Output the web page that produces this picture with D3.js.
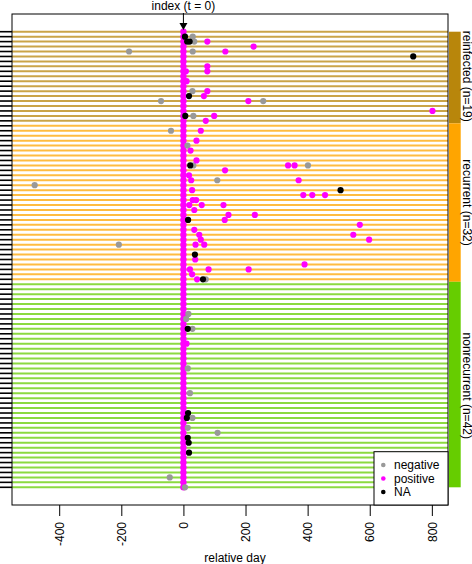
<!DOCTYPE html>
<html><head><meta charset="utf-8">
<script src="https://cdn.jsdelivr.net/npm/d3@7"></script>
<style>body{margin:0;background:#fff}svg{display:block;font-family:"Liberation Sans",Arial,sans-serif}</style>
</head><body><svg id="c" width="472" height="564"></svg>
<script>
// ---- data ----
const groups = ["reinfected", "recurrent", "nonrecurrent"];
const groupCounts = [19, 32, 42];
const groupColors = ["#B8860B", "#FFA500", "#66CD00"];
const xTicks = [-400, -200, 0, 200, 400, 600, 800];
const legendLabels = ["negative", "positive", "NA"];
const legendColors = ["#999999", "#FF00FF", "#000000"];

// rows counted from the top (1..93)
const negativeRows = [2, 3, 5, 5, 13, 15, 15, 18, 21, 24, 28, 28, 31, 32, 44, 51, 58, 59, 61, 69, 74, 79, 81, 82, 91, 93];
const negativeDays = [30, 35, -175, 30, 29, -72, 257, 32, -40, 13, 32, 401, 109, -479, -208, 72, 16, 9, 29, 14, 21, 29, 14, 110, -44, 5];

const positiveRows = [3, 4, 5, 8, 9, 9, 11, 13, 14, 15, 17, 18, 19, 21, 23, 25, 27, 28, 28, 29, 30, 31, 31, 33, 34, 34, 34, 35, 35, 36, 36, 36, 37, 38, 38, 39, 40, 41, 42, 42, 43, 43, 44, 44, 47, 48, 49, 49, 49, 50, 51, 64];
const positiveDays = [77, 226, 135, 77, 77, 8, 10, 77, 66, 209, 802, 99, 72, 56, 42, 23, 42, 337, 358, 134, 18, 25, 371, 28, 386, 415, 456, 30, 41, 19, 59, 129, 35, 145, 230, 133, 568, 35, 51, 547, 56, 598, 39, 67, 38, 390, 21, 81, 210, 28, 44, 10];

const naRows = [2, 3, 3, 6, 14, 18, 28, 33, 39, 46, 51, 61, 78, 79, 83, 84, 86];
const naDays = [5, 12, 20, 740, 18, 6, 22, 506, 15, 37, 63, 14, 15, 11, 14, 17, 18];

// ---- layout ----
const svg = d3.select("#c");
const L = 12, R = 448, T = 14, B = 505;
const nRows = d3.sum(groupCounts);
const x = d3.scaleLinear().domain([-552, 852]).range([L, R]);
const y = d3.scaleLinear().domain([1, nRows]).range([31.7, 487.3]);

// group index per row
const rowGroup = [];
groupCounts.forEach((n, g) => { for (let i = 0; i < n; i++) rowGroup.push(g); });
const rows = d3.range(1, nRows + 1);

// row lines
svg.append("g").selectAll("line").data(rows).join("line")
  .attr("x1", L).attr("x2", R)
  .attr("y1", d => y(d)).attr("y2", d => y(d))
  .attr("stroke", d => groupColors[rowGroup[d - 1]])
  .attr("stroke-opacity", 0.75)
  .attr("stroke-width", 2);

// left ticks (one per row)
svg.append("g").selectAll("line").data(rows).join("line")
  .attr("x1", 0).attr("x2", L)
  .attr("y1", d => y(d)).attr("y2", d => y(d))
  .attr("stroke", "#000").attr("stroke-width", 1.6);

// right group strip
let start = 1;
const strips = groupCounts.map((n, g) => {
  const s = { g, first: start, last: start + n - 1 };
  start += n; return s;
});
const step = y(2) - y(1);
svg.append("g").selectAll("rect").data(strips).join("rect")
  .attr("x", R + 1).attr("width", 11.7)
  .attr("y", d => d.first === 1 ? y(1) : y(d.first) - step / 2)
  .attr("height", d => {
    const top = d.first === 1 ? y(1) : y(d.first) - step / 2;
    const bot = d.last === nRows ? y(nRows) : y(d.last) + step / 2;
    return bot - top;
  })
  .attr("fill", d => groupColors[d.g]);

svg.append("g").selectAll("text").data(strips).join("text")
  .attr("transform", d => `translate(462.5,${(y(d.first) + y(d.last)) / 2}) rotate(90)`)
  .attr("text-anchor", "middle")
  .attr("font-size", 12)
  .text(d => `${groups[d.g]} (n=${groupCounts[d.g]})`);

// index points at t = 0
const pts = svg.append("g");
pts.selectAll("circle.idx").data(rows).join("circle").attr("class", "idx")
  .attr("cx", x(0)).attr("cy", d => y(d)).attr("r", 3.2).attr("fill", legendColors[1]);

function drawPts(rs, ds, col, cls) {
  const data = rs.map((r, i) => ({ r, d: ds[i] }));
  pts.selectAll("circle." + cls).data(data).join("circle").attr("class", cls)
    .attr("cx", d => x(d.d)).attr("cy", d => y(d.r)).attr("r", 3.1).attr("fill", col);
}
drawPts(negativeRows, negativeDays, legendColors[0], "neg");
drawPts(positiveRows, positiveDays, legendColors[1], "pos");
drawPts(naRows, naDays, legendColors[2], "na");

// plot box
svg.append("rect").attr("x", L).attr("y", T).attr("width", R - L).attr("height", B - T)
  .attr("fill", "none").attr("stroke", "#000").attr("stroke-width", 1);

// x axis
const ax = svg.append("g").attr("transform", `translate(0,${B})`)
  .call(d3.axisBottom(x).tickValues(xTicks).tickSize(11).tickSizeOuter(0).tickFormat(d3.format("d")));
ax.select(".domain").remove();
ax.selectAll("line").attr("stroke", "#000");
ax.selectAll("text")
  .attr("font-size", 12).attr("font-family", "Liberation Sans, Arial, sans-serif").attr("fill", "#000")
  .attr("transform", "rotate(-90)").attr("text-anchor", "end")
  .attr("x", -17).attr("y", 0).attr("dy", "0.35em");
ax.selectAll("text").text(d => d < 0 ? "-" + Math.abs(d) : d);

svg.append("text").attr("x", 235).attr("y", 562).attr("text-anchor", "middle")
  .attr("font-size", 12).text("relative day");

// index arrow
svg.append("text").attr("x", x(0)).attr("y", 10).attr("text-anchor", "middle")
  .attr("font-size", 12).text("index (t = 0)");
svg.append("line").attr("x1", x(0)).attr("x2", x(0)).attr("y1", 13).attr("y2", 24)
  .attr("stroke", "#000").attr("stroke-width", 1);
svg.append("path")
  .attr("d", `M${x(0) - 4},23 L${x(0) + 4},23 L${x(0)},30 Z`).attr("fill", "#000");

// legend
const lg = svg.append("g");
lg.append("rect").attr("x", 374).attr("y", 451.7).attr("width", R - 374).attr("height", B - 451.7)
  .attr("fill", "#fff").attr("stroke", "#000");
lg.selectAll("circle").data(legendLabels).join("circle")
  .attr("cx", 383.3).attr("cy", (d, i) => 465 + i * 13.5).attr("r", 2.3)
  .attr("fill", (d, i) => legendColors[i]);
lg.selectAll("text").data(legendLabels).join("text")
  .attr("x", 394).attr("y", (d, i) => 465 + i * 13.5).attr("dy", "0.35em")
  .attr("font-size", 12).text(d => d);
</script></body></html>
